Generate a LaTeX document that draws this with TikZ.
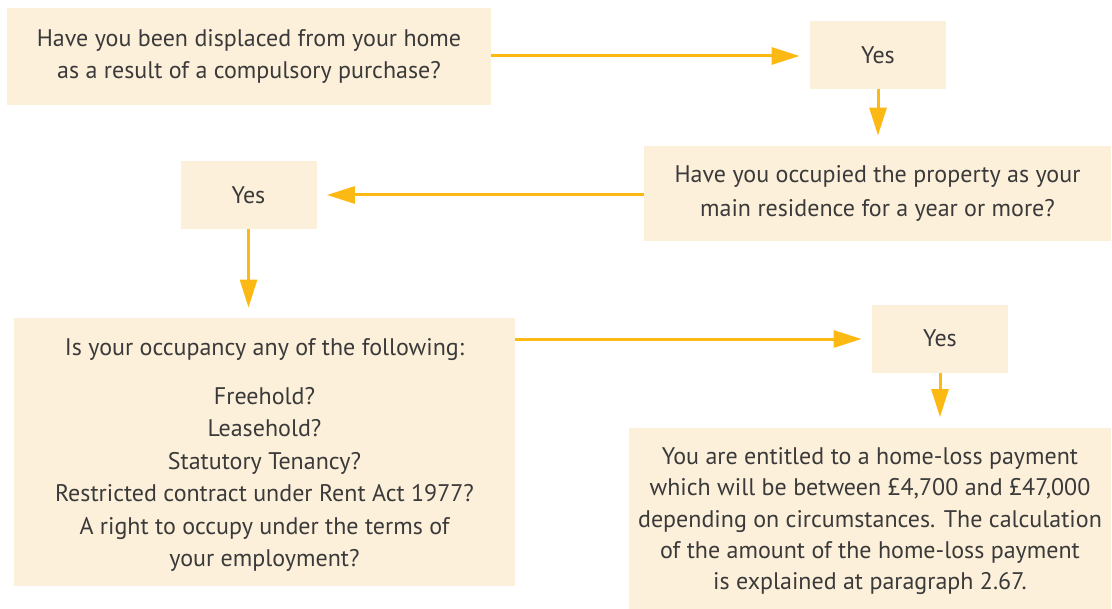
\documentclass[tikz,border=0pt]{standalone}
\usepackage{fontspec}
\setmainfont{PT Sans}
\usepackage{xcolor}
\usepackage{tikz}
\usetikzlibrary{arrows.meta,positioning}

\definecolor{cream}{HTML}{FDF0DA}
\definecolor{gold}{HTML}{FDB913}
\definecolor{ink}{HTML}{3A3A3A}

\tikzset{
    box/.style={fill=cream, text=ink, align=center, inner sep=0pt,
        font=\fontsize{12}{16.2}\selectfont},
    yesbox/.style={box, minimum width=68pt, minimum height=34pt},
    arr/.style={draw=gold, line width=1.5pt, shorten >=5pt,
        -{Triangle[length=14pt,width=8.5pt]}}
}

\begin{document}
\begin{tikzpicture}[x=0.5pt,y=-0.5pt]
    \useasboundingbox (0,0) rectangle (1112,609);

    \node[box, minimum width=242pt, minimum height=48.5pt] (q1) at (249,56.5)
        {Have you been displaced from your home\\as a result of a compulsory purchase?};
    \node[yesbox] (yes1) at (878,55) {Yes};
    \node[box, minimum width=233.5pt, minimum height=47.5pt,
        font=\fontsize{12}{17}\selectfont] (q2) at (877.5,193.5)
        {Have you occupied the property as your\\main residence for a year or more?};
    \node[yesbox] (yes2) at (248.5,195) {Yes};
    \node[box, minimum width=250.5pt, minimum height=134pt] (q3) at (264.5,452)
        {\\[-5pt]Is your occupancy any of the following:\\[8.5pt]
         Freehold?\\Leasehold?\\Statutory Tenancy?\\
         Restricted contract under Rent Act 1977?\\
         A right to occupy under the terms of\\your employment?};
    \node[yesbox] (yes3) at (940,338.5) {Yes};
    \node[box, minimum width=241pt, minimum height=90.5pt,
        font=\fontsize{12}{15.6}\selectfont] (q4) at (870,518)
        {\\[-4pt]You are entitled to a home-loss payment\\
         which will be between \pounds4,700 and \pounds47,000\\
         depending on circumstances. The calculation\\
         of the amount of the home-loss payment\\
         is explained at paragraph 2.67.};

    \draw[arr] (q1.east |- 0,56) -- (yes1.west |- 0,56);
    \draw[arr] (yes1.south) -- (yes1.south |- q2.north);
    \draw[arr] (q2.west |- 0,195) -- (yes2.east |- 0,195);
    \draw[arr] (yes2.south) -- (yes2.south |- q3.north);
    \draw[arr] (q3.east |- 0,339) -- (yes3.west |- 0,339);
    \draw[arr] (yes3.south) -- (yes3.south |- q4.north);

\end{tikzpicture}
\end{document}
